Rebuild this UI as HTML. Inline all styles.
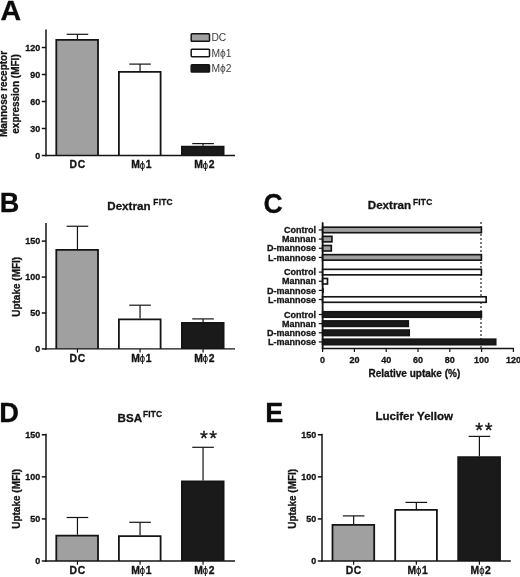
<!DOCTYPE html>
<html lang="en">
<head>
<meta charset="utf-8">
<title>Figure</title>
<style>
html,body{margin:0;padding:0;background:#fff;}
body{width:520px;height:577px;overflow:hidden;}
svg{display:block;}
</style>
</head>
<body>
<svg width="520" height="577" viewBox="0 0 520 577" font-family='"Liberation Sans", sans-serif'>
<rect width="520" height="577" fill="#ffffff"/>
<text transform="translate(0.5,19.7) scale(1.0,1)" font-size="28.5" font-weight="bold" fill="#0c0c0c" stroke="#0c0c0c" stroke-width="0.3">A</text>
<text transform="translate(-0.2,211.8) scale(0.95,1)" font-size="28.5" font-weight="bold" fill="#0c0c0c" stroke="#0c0c0c" stroke-width="0.3">B</text>
<text transform="translate(263.5,212.9) scale(0.93,1)" font-size="28.5" font-weight="bold" fill="#0c0c0c" stroke="#0c0c0c" stroke-width="0.3">C</text>
<text transform="translate(-0.8,421.9) scale(0.96,1)" font-size="28.5" font-weight="bold" fill="#0c0c0c" stroke="#0c0c0c" stroke-width="0.3">D</text>
<text transform="translate(265.3,422.4) scale(0.95,1)" font-size="28.5" font-weight="bold" fill="#0c0c0c" stroke="#0c0c0c" stroke-width="0.3">E</text>
<line x1="46.00" y1="29.60" x2="46.00" y2="156.25" stroke="#141414" stroke-width="1.5" />
<line x1="41.80" y1="155.50" x2="46.00" y2="155.50" stroke="#141414" stroke-width="1.5" />
<text x="40.30" y="158.70" font-size="9" font-weight="bold" text-anchor="end" fill="#141414" stroke="#141414" stroke-width="0.3" >0</text>
<line x1="41.80" y1="128.50" x2="46.00" y2="128.50" stroke="#141414" stroke-width="1.5" />
<text x="40.30" y="131.70" font-size="9" font-weight="bold" text-anchor="end" fill="#141414" stroke="#141414" stroke-width="0.3" >30</text>
<line x1="41.80" y1="101.50" x2="46.00" y2="101.50" stroke="#141414" stroke-width="1.5" />
<text x="40.30" y="104.70" font-size="9" font-weight="bold" text-anchor="end" fill="#141414" stroke="#141414" stroke-width="0.3" >60</text>
<line x1="41.80" y1="74.50" x2="46.00" y2="74.50" stroke="#141414" stroke-width="1.5" />
<text x="40.30" y="77.70" font-size="9" font-weight="bold" text-anchor="end" fill="#141414" stroke="#141414" stroke-width="0.3" >90</text>
<line x1="41.80" y1="47.50" x2="46.00" y2="47.50" stroke="#141414" stroke-width="1.5" />
<text x="40.30" y="50.70" font-size="9" font-weight="bold" text-anchor="end" fill="#141414" stroke="#141414" stroke-width="0.3" >120</text>
<line x1="77.45" y1="34.30" x2="77.45" y2="38.90" stroke="#141414" stroke-width="1.2" />
<line x1="66.65" y1="34.30" x2="88.25" y2="34.30" stroke="#141414" stroke-width="1.2" />
<path d="M56.30 155.50V39.80H98.00V155.50" fill="#a0a0a0" stroke="#141414" stroke-width="1.8" stroke-linejoin="miter"/>
<text transform="translate(77.65,168.40) scale(1.08,1.06)" font-size="9.6" font-weight="bold" text-anchor="middle" letter-spacing="0.5" fill="#141414" stroke="#141414" stroke-width="0.3">DC</text>
<line x1="140.05" y1="64.10" x2="140.05" y2="71.00" stroke="#141414" stroke-width="1.2" />
<line x1="129.25" y1="64.10" x2="150.85" y2="64.10" stroke="#141414" stroke-width="1.2" />
<path d="M118.90 155.50V71.90H160.60V155.50" fill="#ffffff" stroke="#141414" stroke-width="1.8" stroke-linejoin="miter"/>
<text transform="translate(131.25,168.40) scale(1.08,1.06)" font-size="9.6" font-weight="bold" fill="#141414" stroke="#141414" stroke-width="0.3">M<tspan dx="-0.1" dy="0.4" font-size="10" stroke="none" textLength="4.9" lengthAdjust="spacingAndGlyphs">ϕ</tspan><tspan dx="0.6" dy="-0.4">1</tspan></text>
<line x1="203.05" y1="143.60" x2="203.05" y2="145.80" stroke="#141414" stroke-width="1.2" />
<line x1="192.25" y1="143.60" x2="213.85" y2="143.60" stroke="#141414" stroke-width="1.2" />
<path d="M181.90 155.50V146.70H223.60V155.50" fill="#1a1a1a" stroke="#141414" stroke-width="1.8" stroke-linejoin="miter"/>
<text transform="translate(194.25,168.40) scale(1.08,1.06)" font-size="9.6" font-weight="bold" fill="#141414" stroke="#141414" stroke-width="0.3">M<tspan dx="-0.1" dy="0.4" font-size="10" stroke="none" textLength="4.9" lengthAdjust="spacingAndGlyphs">ϕ</tspan><tspan dx="0.6" dy="-0.4">2</tspan></text>
<line x1="45.25" y1="155.50" x2="235.00" y2="155.50" stroke="#141414" stroke-width="1.35" />
<text transform="translate(7.40,94.00) rotate(-90)" font-size="10" font-weight="bold" text-anchor="middle" fill="#141414" stroke="#141414" stroke-width="0.3">Mannose receptor</text>
<text transform="translate(18.50,94.00) rotate(-90)" font-size="10" font-weight="bold" text-anchor="middle" fill="#141414" stroke="#141414" stroke-width="0.3">expression (MFI)</text>
<rect x="191.2" y="33.80" width="18.3" height="7.4" rx="0.8" fill="#a0a0a0" stroke="#141414" stroke-width="1.5"/>
<text x="211.40" y="41.30" font-size="10.3" font-weight="normal" text-anchor="start" fill="#3c3c3c"  >DC</text>
<rect x="191.2" y="49.25" width="18.3" height="7.4" rx="0.8" fill="#ffffff" stroke="#141414" stroke-width="1.5"/>
<text x="211.40" y="56.75" font-size="10.3" font-weight="normal" text-anchor="start" fill="#3c3c3c"  >Mϕ1</text>
<rect x="191.2" y="64.70" width="18.3" height="7.4" rx="0.8" fill="#1a1a1a" stroke="#141414" stroke-width="1.5"/>
<text x="211.40" y="72.20" font-size="10.3" font-weight="normal" text-anchor="start" fill="#3c3c3c"  >Mϕ2</text>
<line x1="46.00" y1="223.00" x2="46.00" y2="349.65" stroke="#141414" stroke-width="1.5" />
<line x1="41.80" y1="348.90" x2="46.00" y2="348.90" stroke="#141414" stroke-width="1.5" />
<text x="40.30" y="352.10" font-size="9" font-weight="bold" text-anchor="end" fill="#141414" stroke="#141414" stroke-width="0.3" >0</text>
<line x1="41.80" y1="312.97" x2="46.00" y2="312.97" stroke="#141414" stroke-width="1.5" />
<text x="40.30" y="316.17" font-size="9" font-weight="bold" text-anchor="end" fill="#141414" stroke="#141414" stroke-width="0.3" >50</text>
<line x1="41.80" y1="277.05" x2="46.00" y2="277.05" stroke="#141414" stroke-width="1.5" />
<text x="40.30" y="280.25" font-size="9" font-weight="bold" text-anchor="end" fill="#141414" stroke="#141414" stroke-width="0.3" >100</text>
<line x1="41.80" y1="241.12" x2="46.00" y2="241.12" stroke="#141414" stroke-width="1.5" />
<text x="40.30" y="244.32" font-size="9" font-weight="bold" text-anchor="end" fill="#141414" stroke="#141414" stroke-width="0.3" >150</text>
<line x1="77.45" y1="226.25" x2="77.45" y2="249.00" stroke="#141414" stroke-width="1.2" />
<line x1="66.65" y1="226.25" x2="88.25" y2="226.25" stroke="#141414" stroke-width="1.2" />
<path d="M56.30 348.90V249.90H98.00V348.90" fill="#a0a0a0" stroke="#141414" stroke-width="1.8" stroke-linejoin="miter"/>
<line x1="77.45" y1="348.90" x2="77.45" y2="352.60" stroke="#141414" stroke-width="1.2" />
<text transform="translate(77.65,361.80) scale(1.08,1.06)" font-size="9.6" font-weight="bold" text-anchor="middle" letter-spacing="0.5" fill="#141414" stroke="#141414" stroke-width="0.3">DC</text>
<line x1="140.05" y1="305.20" x2="140.05" y2="318.50" stroke="#141414" stroke-width="1.2" />
<line x1="129.25" y1="305.20" x2="150.85" y2="305.20" stroke="#141414" stroke-width="1.2" />
<path d="M118.90 348.90V319.40H160.60V348.90" fill="#ffffff" stroke="#141414" stroke-width="1.8" stroke-linejoin="miter"/>
<line x1="140.05" y1="348.90" x2="140.05" y2="352.60" stroke="#141414" stroke-width="1.2" />
<text transform="translate(131.25,361.80) scale(1.08,1.06)" font-size="9.6" font-weight="bold" fill="#141414" stroke="#141414" stroke-width="0.3">M<tspan dx="-0.1" dy="0.4" font-size="10" stroke="none" textLength="4.9" lengthAdjust="spacingAndGlyphs">ϕ</tspan><tspan dx="0.6" dy="-0.4">1</tspan></text>
<line x1="203.05" y1="318.90" x2="203.05" y2="322.00" stroke="#141414" stroke-width="1.2" />
<line x1="192.25" y1="318.90" x2="213.85" y2="318.90" stroke="#141414" stroke-width="1.2" />
<path d="M181.90 348.90V322.90H223.60V348.90" fill="#1a1a1a" stroke="#141414" stroke-width="1.8" stroke-linejoin="miter"/>
<line x1="203.05" y1="348.90" x2="203.05" y2="352.60" stroke="#141414" stroke-width="1.2" />
<text transform="translate(194.25,361.80) scale(1.08,1.06)" font-size="9.6" font-weight="bold" fill="#141414" stroke="#141414" stroke-width="0.3">M<tspan dx="-0.1" dy="0.4" font-size="10" stroke="none" textLength="4.9" lengthAdjust="spacingAndGlyphs">ϕ</tspan><tspan dx="0.6" dy="-0.4">2</tspan></text>
<line x1="45.25" y1="348.90" x2="235.00" y2="348.90" stroke="#141414" stroke-width="1.35" />
<text transform="translate(20.20,286.80) rotate(-90)" font-size="10" font-weight="bold" text-anchor="middle" fill="#141414" stroke="#141414" stroke-width="0.3">Uptake (MFI)</text>
<text x="107.30" y="210.00" font-size="11.6" font-weight="bold" text-anchor="start" fill="#141414" stroke="#141414" stroke-width="0.3" >Dextran<tspan dx="2.9" dy="-5.3" font-size="8.4" letter-spacing="0.2">FITC</tspan></text>
<line x1="322.60" y1="222.50" x2="322.60" y2="349.25" stroke="#141414" stroke-width="1.5" />
<line x1="481.00" y1="222.00" x2="481.00" y2="348.50" stroke="#444" stroke-width="1.4" stroke-dasharray="1.9 2.1"/>
<line x1="318.80" y1="229.95" x2="322.60" y2="229.95" stroke="#141414" stroke-width="1.2" />
<text x="316.00" y="233.15" font-size="9" font-weight="bold" text-anchor="end" fill="#141414" stroke="#141414" stroke-width="0.3" >Control</text>
<rect x="322.60" y="227.20" width="158.80" height="5.5" fill="#a0a0a0" stroke="#141414" stroke-width="1.65"/>
<line x1="318.80" y1="239.10" x2="322.60" y2="239.10" stroke="#141414" stroke-width="1.2" />
<text x="316.00" y="242.30" font-size="9" font-weight="bold" text-anchor="end" fill="#141414" stroke="#141414" stroke-width="0.3" >Mannan</text>
<rect x="322.60" y="236.35" width="9.34" height="5.5" fill="#a0a0a0" stroke="#141414" stroke-width="1.65"/>
<line x1="318.80" y1="248.25" x2="322.60" y2="248.25" stroke="#141414" stroke-width="1.2" />
<text x="316.00" y="251.45" font-size="9" font-weight="bold" text-anchor="end" fill="#141414" stroke="#141414" stroke-width="0.3" >D-mannose</text>
<rect x="322.60" y="245.50" width="8.70" height="5.5" fill="#a0a0a0" stroke="#141414" stroke-width="1.65"/>
<line x1="318.80" y1="257.40" x2="322.60" y2="257.40" stroke="#141414" stroke-width="1.2" />
<text x="316.00" y="260.60" font-size="9" font-weight="bold" text-anchor="end" fill="#141414" stroke="#141414" stroke-width="0.3" >L-mannose</text>
<rect x="322.60" y="254.65" width="158.80" height="5.5" fill="#a0a0a0" stroke="#141414" stroke-width="1.65"/>
<line x1="318.80" y1="272.10" x2="322.60" y2="272.10" stroke="#141414" stroke-width="1.2" />
<text x="316.00" y="275.30" font-size="9" font-weight="bold" text-anchor="end" fill="#141414" stroke="#141414" stroke-width="0.3" >Control</text>
<rect x="322.60" y="269.35" width="158.80" height="5.5" fill="#ffffff" stroke="#141414" stroke-width="1.65"/>
<line x1="318.80" y1="281.25" x2="322.60" y2="281.25" stroke="#141414" stroke-width="1.2" />
<text x="316.00" y="284.45" font-size="9" font-weight="bold" text-anchor="end" fill="#141414" stroke="#141414" stroke-width="0.3" >Mannan</text>
<rect x="322.60" y="278.50" width="4.89" height="5.5" fill="#ffffff" stroke="#141414" stroke-width="1.65"/>
<line x1="318.80" y1="290.40" x2="322.60" y2="290.40" stroke="#141414" stroke-width="1.2" />
<text x="316.00" y="293.60" font-size="9" font-weight="bold" text-anchor="end" fill="#141414" stroke="#141414" stroke-width="0.3" >D-mannose</text>
<line x1="322.90" y1="287.90" x2="322.90" y2="292.90" stroke="#141414" stroke-width="1.8" />
<line x1="318.80" y1="299.55" x2="322.60" y2="299.55" stroke="#141414" stroke-width="1.2" />
<text x="316.00" y="302.75" font-size="9" font-weight="bold" text-anchor="end" fill="#141414" stroke="#141414" stroke-width="0.3" >L-mannose</text>
<rect x="322.60" y="296.80" width="163.57" height="5.5" fill="#ffffff" stroke="#141414" stroke-width="1.65"/>
<line x1="318.80" y1="314.50" x2="322.60" y2="314.50" stroke="#141414" stroke-width="1.2" />
<text x="316.00" y="317.70" font-size="9" font-weight="bold" text-anchor="end" fill="#141414" stroke="#141414" stroke-width="0.3" >Control</text>
<rect x="322.60" y="311.75" width="158.80" height="5.5" fill="#1a1a1a" stroke="#141414" stroke-width="1.65"/>
<line x1="318.80" y1="323.65" x2="322.60" y2="323.65" stroke="#141414" stroke-width="1.2" />
<text x="316.00" y="326.85" font-size="9" font-weight="bold" text-anchor="end" fill="#141414" stroke="#141414" stroke-width="0.3" >Mannan</text>
<rect x="322.60" y="320.90" width="85.66" height="5.5" fill="#1a1a1a" stroke="#141414" stroke-width="1.65"/>
<line x1="318.80" y1="332.80" x2="322.60" y2="332.80" stroke="#141414" stroke-width="1.2" />
<text x="316.00" y="336.00" font-size="9" font-weight="bold" text-anchor="end" fill="#141414" stroke="#141414" stroke-width="0.3" >D-mannose</text>
<rect x="322.60" y="330.05" width="86.61" height="5.5" fill="#1a1a1a" stroke="#141414" stroke-width="1.65"/>
<line x1="318.80" y1="341.95" x2="322.60" y2="341.95" stroke="#141414" stroke-width="1.2" />
<text x="316.00" y="345.15" font-size="9" font-weight="bold" text-anchor="end" fill="#141414" stroke="#141414" stroke-width="0.3" >L-mannose</text>
<rect x="322.60" y="339.20" width="173.11" height="5.5" fill="#1a1a1a" stroke="#141414" stroke-width="1.65"/>
<line x1="322.60" y1="222.50" x2="322.60" y2="349.25" stroke="#141414" stroke-width="1.5" />
<line x1="321.85" y1="348.50" x2="514.00" y2="348.50" stroke="#141414" stroke-width="1.5" />
<line x1="322.60" y1="348.50" x2="322.60" y2="351.90" stroke="#141414" stroke-width="1.2" />
<text x="322.60" y="362.70" font-size="9" font-weight="bold" text-anchor="middle" fill="#141414" stroke="#141414" stroke-width="0.3" >0</text>
<line x1="354.40" y1="348.50" x2="354.40" y2="351.90" stroke="#141414" stroke-width="1.2" />
<text x="354.40" y="362.70" font-size="9" font-weight="bold" text-anchor="middle" fill="#141414" stroke="#141414" stroke-width="0.3" >20</text>
<line x1="386.20" y1="348.50" x2="386.20" y2="351.90" stroke="#141414" stroke-width="1.2" />
<text x="386.20" y="362.70" font-size="9" font-weight="bold" text-anchor="middle" fill="#141414" stroke="#141414" stroke-width="0.3" >40</text>
<line x1="418.00" y1="348.50" x2="418.00" y2="351.90" stroke="#141414" stroke-width="1.2" />
<text x="418.00" y="362.70" font-size="9" font-weight="bold" text-anchor="middle" fill="#141414" stroke="#141414" stroke-width="0.3" >60</text>
<line x1="449.80" y1="348.50" x2="449.80" y2="351.90" stroke="#141414" stroke-width="1.2" />
<text x="449.80" y="362.70" font-size="9" font-weight="bold" text-anchor="middle" fill="#141414" stroke="#141414" stroke-width="0.3" >80</text>
<line x1="481.60" y1="348.50" x2="481.60" y2="351.90" stroke="#141414" stroke-width="1.2" />
<text x="481.60" y="362.70" font-size="9" font-weight="bold" text-anchor="middle" fill="#141414" stroke="#141414" stroke-width="0.3" >100</text>
<line x1="513.40" y1="348.50" x2="513.40" y2="351.90" stroke="#141414" stroke-width="1.2" />
<text x="513.40" y="362.70" font-size="9" font-weight="bold" text-anchor="middle" fill="#141414" stroke="#141414" stroke-width="0.3" >120</text>
<text x="414.40" y="377.20" font-size="10" font-weight="bold" text-anchor="middle" fill="#141414" stroke="#141414" stroke-width="0.3" >Relative uptake (%)</text>
<text x="367.80" y="209.40" font-size="11.6" font-weight="bold" text-anchor="start" fill="#141414" stroke="#141414" stroke-width="0.3" >Dextran<tspan dx="2.0" dy="-4.7" font-size="8.4" letter-spacing="0.2">FITC</tspan></text>
<line x1="46.00" y1="433.75" x2="46.00" y2="561.75" stroke="#141414" stroke-width="1.5" />
<line x1="41.80" y1="561.00" x2="46.00" y2="561.00" stroke="#141414" stroke-width="1.5" />
<text x="40.30" y="564.20" font-size="9" font-weight="bold" text-anchor="end" fill="#141414" stroke="#141414" stroke-width="0.3" >0</text>
<line x1="41.80" y1="518.92" x2="46.00" y2="518.92" stroke="#141414" stroke-width="1.5" />
<text x="40.30" y="522.12" font-size="9" font-weight="bold" text-anchor="end" fill="#141414" stroke="#141414" stroke-width="0.3" >50</text>
<line x1="41.80" y1="476.85" x2="46.00" y2="476.85" stroke="#141414" stroke-width="1.5" />
<text x="40.30" y="480.05" font-size="9" font-weight="bold" text-anchor="end" fill="#141414" stroke="#141414" stroke-width="0.3" >100</text>
<line x1="41.80" y1="434.77" x2="46.00" y2="434.77" stroke="#141414" stroke-width="1.5" />
<text x="40.30" y="437.97" font-size="9" font-weight="bold" text-anchor="end" fill="#141414" stroke="#141414" stroke-width="0.3" >150</text>
<line x1="77.45" y1="517.50" x2="77.45" y2="534.70" stroke="#141414" stroke-width="1.2" />
<line x1="66.65" y1="517.50" x2="88.25" y2="517.50" stroke="#141414" stroke-width="1.2" />
<path d="M56.30 561.00V535.60H98.00V561.00" fill="#a0a0a0" stroke="#141414" stroke-width="1.8" stroke-linejoin="miter"/>
<line x1="77.45" y1="561.00" x2="77.45" y2="564.70" stroke="#141414" stroke-width="1.2" />
<text transform="translate(77.65,573.90) scale(1.08,1.06)" font-size="9.6" font-weight="bold" text-anchor="middle" letter-spacing="0.5" fill="#141414" stroke="#141414" stroke-width="0.3">DC</text>
<line x1="140.05" y1="522.30" x2="140.05" y2="535.20" stroke="#141414" stroke-width="1.2" />
<line x1="129.25" y1="522.30" x2="150.85" y2="522.30" stroke="#141414" stroke-width="1.2" />
<path d="M118.90 561.00V536.10H160.60V561.00" fill="#ffffff" stroke="#141414" stroke-width="1.8" stroke-linejoin="miter"/>
<line x1="140.05" y1="561.00" x2="140.05" y2="564.70" stroke="#141414" stroke-width="1.2" />
<text transform="translate(131.25,573.90) scale(1.08,1.06)" font-size="9.6" font-weight="bold" fill="#141414" stroke="#141414" stroke-width="0.3">M<tspan dx="-0.1" dy="0.4" font-size="10" stroke="none" textLength="4.9" lengthAdjust="spacingAndGlyphs">ϕ</tspan><tspan dx="0.6" dy="-0.4">1</tspan></text>
<line x1="203.05" y1="447.30" x2="203.05" y2="480.50" stroke="#141414" stroke-width="1.2" />
<line x1="192.25" y1="447.30" x2="213.85" y2="447.30" stroke="#141414" stroke-width="1.2" />
<path d="M181.90 561.00V481.40H223.60V561.00" fill="#1a1a1a" stroke="#141414" stroke-width="1.8" stroke-linejoin="miter"/>
<line x1="203.05" y1="561.00" x2="203.05" y2="564.70" stroke="#141414" stroke-width="1.2" />
<text transform="translate(194.25,573.90) scale(1.08,1.06)" font-size="9.6" font-weight="bold" fill="#141414" stroke="#141414" stroke-width="0.3">M<tspan dx="-0.1" dy="0.4" font-size="10" stroke="none" textLength="4.9" lengthAdjust="spacingAndGlyphs">ϕ</tspan><tspan dx="0.6" dy="-0.4">2</tspan></text>
<line x1="45.25" y1="561.00" x2="235.00" y2="561.00" stroke="#141414" stroke-width="1.35" />
<text transform="translate(20.20,498.80) rotate(-90)" font-size="10" font-weight="bold" text-anchor="middle" fill="#141414" stroke="#141414" stroke-width="0.3">Uptake (MFI)</text>
<text x="117.60" y="421.60" font-size="11.6" font-weight="bold" text-anchor="start" fill="#141414" stroke="#141414" stroke-width="0.3" >BSA<tspan dx="0.8" dy="-4.3" font-size="8.4" letter-spacing="0.2">FITC</tspan></text>
<text x="209.30" y="445.30" font-size="20" font-weight="normal" text-anchor="middle" fill="#141414"  letter-spacing="1.6" stroke="#141414" stroke-width="0.35">**</text>
<line x1="322.00" y1="433.75" x2="322.00" y2="561.75" stroke="#141414" stroke-width="1.5" />
<line x1="317.80" y1="561.00" x2="322.00" y2="561.00" stroke="#141414" stroke-width="1.5" />
<text x="316.30" y="564.20" font-size="9" font-weight="bold" text-anchor="end" fill="#141414" stroke="#141414" stroke-width="0.3" >0</text>
<line x1="317.80" y1="518.92" x2="322.00" y2="518.92" stroke="#141414" stroke-width="1.5" />
<text x="316.30" y="522.12" font-size="9" font-weight="bold" text-anchor="end" fill="#141414" stroke="#141414" stroke-width="0.3" >50</text>
<line x1="317.80" y1="476.85" x2="322.00" y2="476.85" stroke="#141414" stroke-width="1.5" />
<text x="316.30" y="480.05" font-size="9" font-weight="bold" text-anchor="end" fill="#141414" stroke="#141414" stroke-width="0.3" >100</text>
<line x1="317.80" y1="434.77" x2="322.00" y2="434.77" stroke="#141414" stroke-width="1.5" />
<text x="316.30" y="437.97" font-size="9" font-weight="bold" text-anchor="end" fill="#141414" stroke="#141414" stroke-width="0.3" >150</text>
<line x1="353.65" y1="515.90" x2="353.65" y2="524.00" stroke="#141414" stroke-width="1.2" />
<line x1="342.85" y1="515.90" x2="364.45" y2="515.90" stroke="#141414" stroke-width="1.2" />
<path d="M332.50 561.00V524.90H374.20V561.00" fill="#a0a0a0" stroke="#141414" stroke-width="1.8" stroke-linejoin="miter"/>
<line x1="353.65" y1="561.00" x2="353.65" y2="564.70" stroke="#141414" stroke-width="1.2" />
<text transform="translate(353.85,573.90) scale(1.08,1.06)" font-size="9.6" font-weight="bold" text-anchor="middle" letter-spacing="0.5" fill="#141414" stroke="#141414" stroke-width="0.3">DC</text>
<line x1="416.35" y1="502.40" x2="416.35" y2="509.00" stroke="#141414" stroke-width="1.2" />
<line x1="405.55" y1="502.40" x2="427.15" y2="502.40" stroke="#141414" stroke-width="1.2" />
<path d="M395.20 561.00V509.90H436.90V561.00" fill="#ffffff" stroke="#141414" stroke-width="1.8" stroke-linejoin="miter"/>
<line x1="416.35" y1="561.00" x2="416.35" y2="564.70" stroke="#141414" stroke-width="1.2" />
<text transform="translate(407.55,573.90) scale(1.08,1.06)" font-size="9.6" font-weight="bold" fill="#141414" stroke="#141414" stroke-width="0.3">M<tspan dx="-0.1" dy="0.4" font-size="10" stroke="none" textLength="4.9" lengthAdjust="spacingAndGlyphs">ϕ</tspan><tspan dx="0.6" dy="-0.4">1</tspan></text>
<line x1="479.40" y1="436.40" x2="479.40" y2="456.30" stroke="#141414" stroke-width="1.2" />
<line x1="468.60" y1="436.40" x2="490.20" y2="436.40" stroke="#141414" stroke-width="1.2" />
<path d="M458.20 561.00V457.20H500.00V561.00" fill="#1a1a1a" stroke="#141414" stroke-width="1.8" stroke-linejoin="miter"/>
<line x1="479.40" y1="561.00" x2="479.40" y2="564.70" stroke="#141414" stroke-width="1.2" />
<text transform="translate(470.60,573.90) scale(1.08,1.06)" font-size="9.6" font-weight="bold" fill="#141414" stroke="#141414" stroke-width="0.3">M<tspan dx="-0.1" dy="0.4" font-size="10" stroke="none" textLength="4.9" lengthAdjust="spacingAndGlyphs">ϕ</tspan><tspan dx="0.6" dy="-0.4">2</tspan></text>
<line x1="321.25" y1="561.00" x2="510.80" y2="561.00" stroke="#141414" stroke-width="1.35" />
<text transform="translate(296.00,498.80) rotate(-90)" font-size="10" font-weight="bold" text-anchor="middle" fill="#141414" stroke="#141414" stroke-width="0.3">Uptake (MFI)</text>
<text x="375.40" y="420.40" font-size="11.6" font-weight="bold" text-anchor="start" fill="#141414" stroke="#141414" stroke-width="0.3" >Lucifer Yellow</text>
<text x="484.70" y="437.10" font-size="20" font-weight="normal" text-anchor="middle" fill="#141414"  letter-spacing="1.6" stroke="#141414" stroke-width="0.35">**</text>
</svg>
</body>
</html>
